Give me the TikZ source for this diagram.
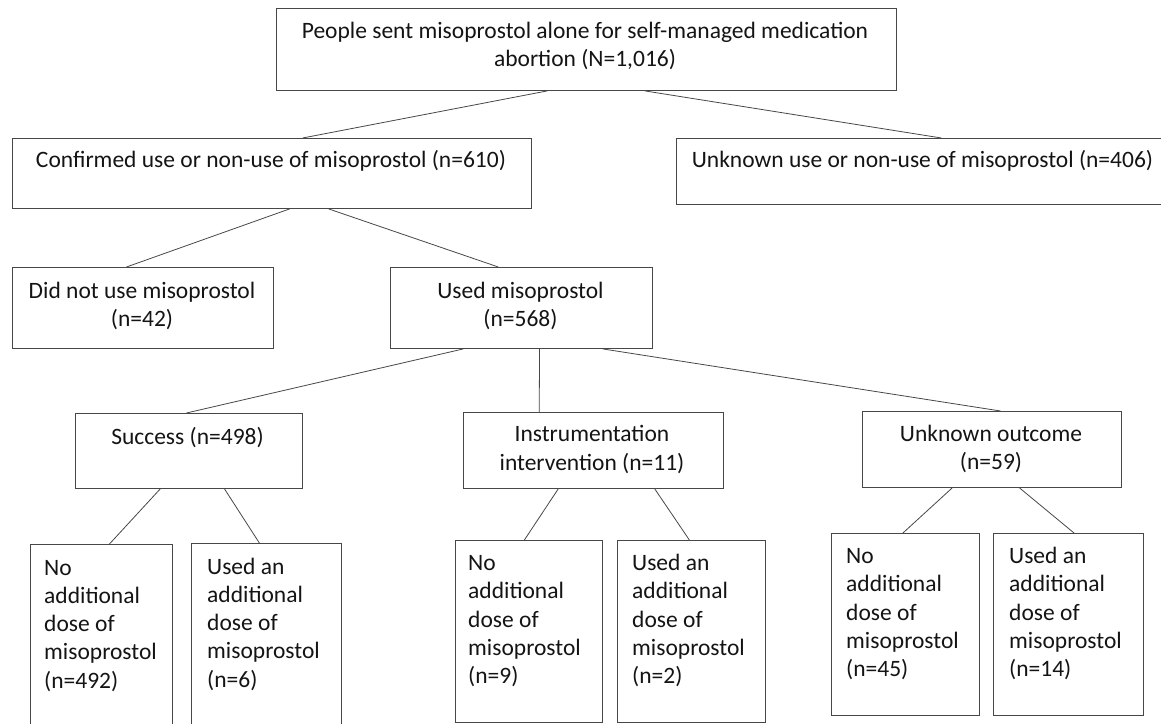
\documentclass[tikz,border=0pt]{standalone}
\usepackage{fontspec}
\setmainfont{Carlito}
\usetikzlibrary{calc}
\begin{document}
\begin{tikzpicture}[x=1pt,y=-1pt,
  box/.style={draw=black!72, line width=0.9pt, inner sep=0pt, anchor=north west},
  txt/.style={inner sep=0pt, font=\fontsize{23.5}{28.5}\selectfont, align=center, text=black!92},
  leaftxt/.style={inner sep=0pt, font=\fontsize{23.5}{28.3}\selectfont, align=left, anchor=north west, text=black!92},
  conn/.style={draw=black!72, line width=0.8pt}]
\useasboundingbox (0,0) rectangle (1161,723);
% boxes
\node[box, minimum width=620pt, minimum height=82pt] (top) at (276,8) {};
\node[box, minimum width=519pt, minimum height=70pt] (conf) at (12,138) {};
\node[box, minimum width=487pt, minimum height=66pt] (unk) at (676,138) {};
\node[box, minimum width=261pt, minimum height=81pt] (did) at (12,267) {};
\node[box, minimum width=262pt, minimum height=81pt] (used) at (390,267) {};
\node[box, minimum width=227pt, minimum height=75pt] (succ) at (75,413) {};
\node[box, minimum width=260pt, minimum height=76pt] (instr) at (463,412) {};
\node[box, minimum width=259pt, minimum height=76pt] (unko) at (862,411) {};
\node[box, minimum width=142pt, minimum height=185pt] (sn) at (30,544) {};
\node[box, minimum width=150pt, minimum height=185pt] (su) at (191,543) {};
\node[box, minimum width=147pt, minimum height=182pt] (in) at (455,540) {};
\node[box, minimum width=148pt, minimum height=182pt] (iu) at (617,540) {};
\node[box, minimum width=148pt, minimum height=182pt] (un) at (831,533) {};
\node[box, minimum width=150pt, minimum height=182pt] (uu) at (993,533) {};
% texts
\node[txt] (toptxt) at (585,46) {People sent misoprostol alone for self-managed medication\\abortion (N=1,016)};
\node[txt] (conftxt) at (271,161) {Confirmed use or non-use of misoprostol (n=610)};
\node[txt] (unktxt) at (922.5,161) {Unknown use or non-use of misoprostol (n=406)};
\node[txt] (didtxt) at (142,306) {Did not use misoprostol\\(n=42)};
\node[txt] (usedtxt) at (520.5,306) {Used misoprostol\\(n=568)};
\node[txt] (succtxt) at (187.5,438) {Success (n=498)};
\node[txt] (instrtxt) at (592,449.5) {Instrumentation\\intervention (n=11)};
\node[txt] (unkotxt) at (991,449) {Unknown outcome\\(n=59)};
\node[leaftxt] (sntxt) at (44,555) {\strut No\\additional\\dose of\\misoprostol\\(n=492)};
\node[leaftxt] (sutxt) at (207,554) {\strut Used an\\additional\\dose of\\misoprostol\\(n=6)};
\node[leaftxt] (intxt) at (468,550.5) {\strut No\\additional\\dose of\\misoprostol\\(n=9)};
\node[leaftxt] (iutxt) at (632,550.5) {\strut Used an\\additional\\dose of\\misoprostol\\(n=2)};
\node[leaftxt] (untxt) at (846,543.5) {\strut No\\additional\\dose of\\misoprostol\\(n=45)};
\node[leaftxt] (uutxt) at (1009,543.5) {\strut Used an\\additional\\dose of\\misoprostol\\(n=14)};
% connectors
\draw[conn] ($(top.south west)!0.437!(top.south east)$) -- ($(conf.north west)!0.559!(conf.north east)$);
\draw[conn] ($(top.south west)!0.594!(top.south east)$) -- ($(unk.north west)!0.544!(unk.north east)$);
\draw[conn] ($(conf.south west)!0.534!(conf.south east)$) -- ($(did.north west)!0.437!(did.north east)$);
\draw[conn] ($(conf.south west)!0.609!(conf.south east)$) -- ($(used.north west)!0.412!(used.north east)$);
\draw[conn] ($(used.south west)!0.279!(used.south east)$) -- ($(succ.north west)!0.489!(succ.north east)$);
\draw[conn] ($(used.south west)!0.569!(used.south east)$) -- ($(instr.north west)!0.292!(instr.north east)$);
\draw[conn] ($(used.south west)!0.809!(used.south east)$) -- ($(unko.north west)!0.533!(unko.north east)$);
\draw[conn] ($(succ.south west)!0.374!(succ.south east)$) -- ($(sn.north west)!0.556!(sn.north east)$);
\draw[conn] ($(succ.south west)!0.656!(succ.south east)$) -- ($(su.north west)!0.453!(su.north east)$);
\draw[conn] ($(instr.south west)!0.365!(instr.south east)$) -- ($(in.north west)!0.469!(in.north east)$);
\draw[conn] ($(instr.south west)!0.735!(instr.south east)$) -- ($(iu.north west)!0.486!(iu.north east)$);
\draw[conn] ($(unko.south west)!0.347!(unko.south east)$) -- ($(un.north west)!0.483!(un.north east)$);
\draw[conn] ($(unko.south west)!0.606!(unko.south east)$) -- ($(uu.north west)!0.537!(uu.north east)$);
\end{tikzpicture}
\end{document}
